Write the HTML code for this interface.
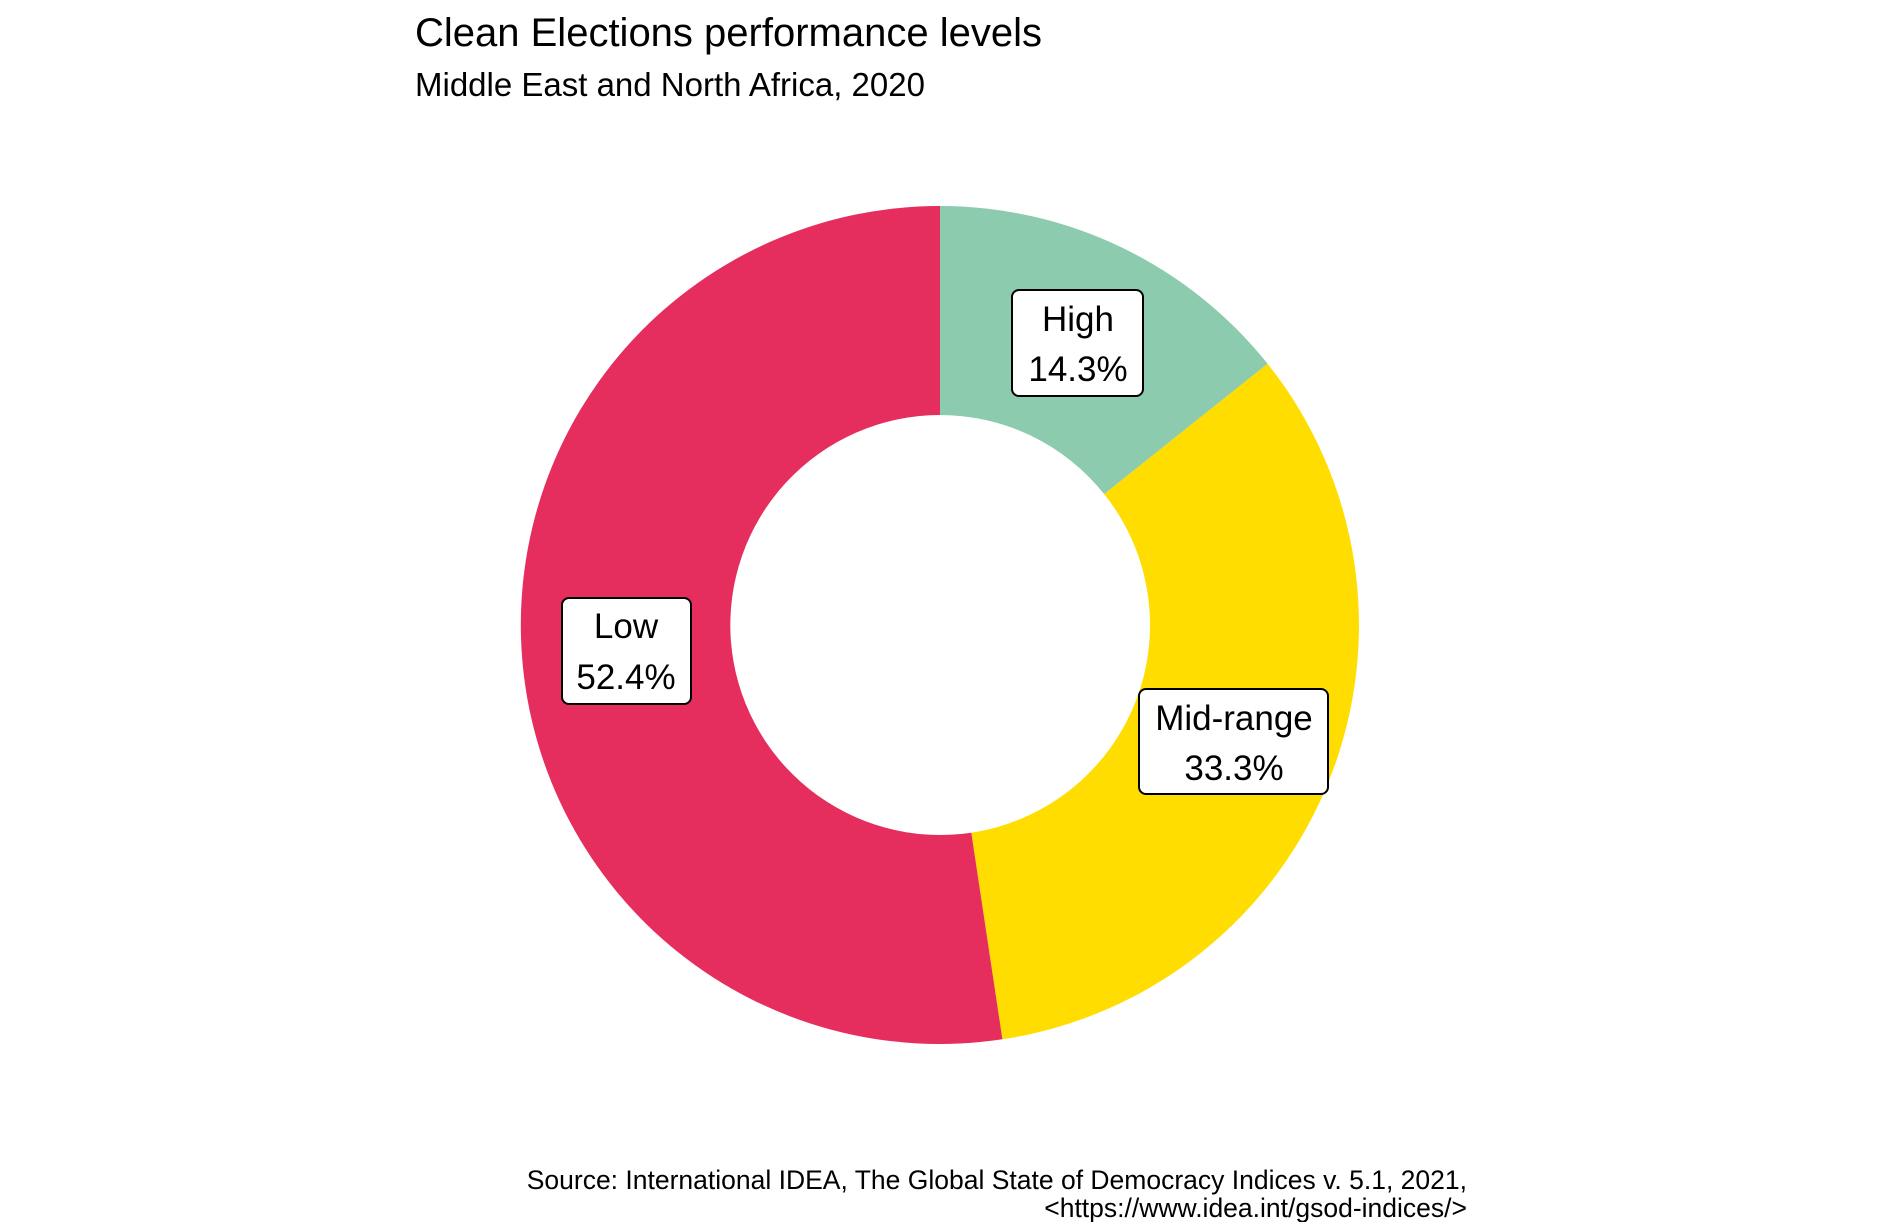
<!DOCTYPE html>
<html><head><meta charset="utf-8"><style>
html,body{margin:0;padding:0;background:#fff;}
svg{display:block;font-family:"Liberation Sans",Arial,sans-serif;}
</style></head><body>
<svg width="1881" height="1222" viewBox="0 0 1881 1222" xmlns="http://www.w3.org/2000/svg">
<rect width="1881" height="1222" fill="#fff"/>
<text x="415" y="46" font-size="40" fill="#000">Clean Elections performance levels</text>
<text x="415" y="96" font-size="33" fill="#000">Middle East and North Africa, 2020</text>
<g transform="translate(940,625)">
<path d="M0,-419 A419,419 0 0 1 327.6,-261.2 L164.2,-130.9 A210,210 0 0 0 0,-210 Z" fill="#8CCBAE"/>
<path d="M327.6,-261.2 A419,419 0 0 1 62.4,414.3 L31.3,207.7 A210,210 0 0 0 164.2,-130.9 Z" fill="#FFDD00"/>
<path d="M62.4,414.3 A419,419 0 1 1 0,-419 L0,-210 A210,210 0 1 0 31.3,207.7 Z" fill="#E52D5E"/>
</g>
<g font-size="35" text-anchor="middle" fill="#000">
<rect x="1012" y="290" width="131" height="106" rx="7" fill="#fff" stroke="#000" stroke-width="2"/>
<text x="1078" y="331">High</text><text x="1078" y="381">14.3%</text>
<rect x="562" y="598" width="129" height="106" rx="7" fill="#fff" stroke="#000" stroke-width="2"/>
<text x="626" y="638">Low</text><text x="626" y="689">52.4%</text>
<rect x="1139" y="689" width="189" height="105" rx="7" fill="#fff" stroke="#000" stroke-width="2"/>
<text x="1234" y="730">Mid-range</text><text x="1234" y="780">33.3%</text>
</g>
<g font-size="26.5" text-anchor="end" fill="#000">
<text x="1467" y="1189">Source: International IDEA, The Global State of Democracy Indices v. 5.1, 2021,</text>
<text x="1467" y="1217">&lt;https://www.idea.int/gsod-indices/&gt;</text>
</g>
</svg>
</body></html>
